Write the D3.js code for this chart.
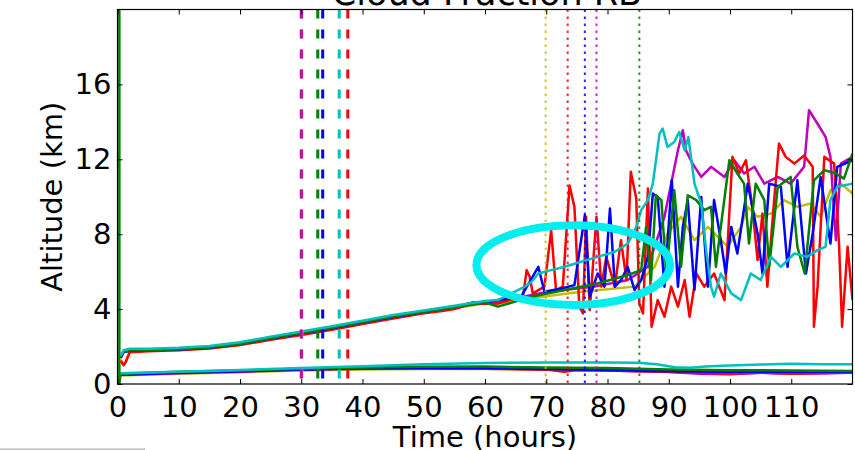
<!DOCTYPE html>
<html lang="en">
<head>
<meta charset="UTF-8">
<title>Cloud Fraction RB</title>
<script src="https://d3js.org/d3.v7.min.js"></script>
<style>
  body { margin: 0; background: #fff; }
  svg { display: block; font-family: "DejaVu Sans", sans-serif; }
  .tick text { font-size: 29px; fill: #000; }
</style>
</head>
<body>
<svg width="855" height="450"></svg>
<script>
// ---- data: [time (hours), altitude (km)] ----
const xTicks = [0, 10, 20, 30, 40, 50, 60, 70, 80, 90, 100, 110];
const yTicks = [0, 4, 8, 12, 16];

const yellowTop = [[0.5,1.3],[1.0,1.05],[1.4,1.2],[2,1.72],[5,1.78],[10,1.82],[15,1.92],[20,2.1],[25,2.4],[30,2.68],[35,2.96],[40,3.26],[45,3.56],[50,3.82],[55,4.06],[60,4.3],
  [62.1,4.3],[68,4.6],[75.7,4.93],[84.4,5.2],[87.7,6.26],[89.8,8.04],[92.0,8.93],[94.2,7.68],[96.4,8.39],[99.6,7.33],[101.8,8.39],[102.9,9.46],[104.5,8.93],[106.7,9.1],[108.8,9.82],[111.0,9.46],[113.2,9.64],[114.8,8.93],[116.4,10.35],[118.1,10.7],[120,10.17]];
const magentaTop = [[0.5,1.4],[1.0,1.7],[2,1.8],[5,1.8],[10,1.85],[15,1.95],[20,2.15],[25,2.45],[30,2.72],[35,3.0],[40,3.3],[45,3.6],[50,3.85],[55,4.1],[60,4.35],
  [62.1,4.39],[70.3,4.93],[77.9,5.2],[83.3,5.55],[86.6,6.26],[89.3,8.93],[91.5,12.48],[92.3,13.55],[92.8,12.48],[93.9,11.77],[95.3,11.06],[96.9,11.6],[99.1,11.06],[100.7,11.95],[102.3,11.24],[104.0,11.6],[105.6,10.7],[107.8,11.06],[109.9,10.7],[112.1,11.6],[112.9,14.62],[114.3,13.9],[115.6,13.2],[116.4,12.13],[117.3,7.68],[118.1,11.77],[120,12.13]];
const redTop = [[0.5,1.25],[1.0,1.0],[1.3,1.15],[2,1.7],[5,1.75],[10,1.8],[15,1.9],[20,2.08],[25,2.36],[30,2.62],[35,2.9],[40,3.2],[45,3.5],[50,3.78],[53,3.9],[55,4.0],[58,4.3],[60,4.28],
  [62.1,4.3],[64.9,4.57],[66.2,4.66],[66.8,6.08],[67.3,5.73],[67.8,4.84],[69.7,5.2],[70.8,8.2],[71.6,5.0],[72.7,5.2],[73.8,10.6],[74.6,9.46],[75.4,4.13],[76.0,3.77],[76.5,8.93],[77.1,3.95],[78.2,8.93],[79.0,5.2],[79.8,6.79],[81.2,5.2],[82.2,7.68],[83.1,5.55],[83.8,11.33],[84.7,9.9],[85.2,4.3],[85.8,3.77],[86.6,10.44],[87.2,3.06],[88.2,4.48],[89.3,3.59],[90.4,5.2],[91.5,4.13],[92.6,5.55],[93.4,3.59],[94.5,5.9],[95.8,5.2],[97.4,5.9],[99.1,4.48],[100.4,12.13],[101.5,11.24],[102.6,11.95],[103.7,9.28],[104.5,6.62],[105.3,9.1],[106.1,5.2],[107.2,9.8],[108.0,12.84],[109.1,12.13],[110.5,11.77],[112.1,12.2],[113.5,11.6],[113.7,3.06],[114.3,5.2],[115.4,12.13],[117.0,11.77],[117.8,7.5],[118.3,3.06],[119.2,7.33],[120,4.48]];
const blueTop = [[0.5,1.4],[1.0,1.7],[2,1.78],[5,1.8],[10,1.84],[15,1.94],[20,2.13],[25,2.43],[30,2.7],[35,2.98],[40,3.28],[45,3.58],[50,3.84],[55,4.1],[58,4.35],[60,4.34],
  [62.1,4.48],[65.9,4.66],[68.7,6.26],[69.7,4.93],[72.5,5.1],[74.6,5.28],[76.3,9.02],[77.1,4.66],[78.4,5.9],[79.5,5.2],[80.4,9.37],[81.2,5.2],[82.2,5.55],[83.3,6.26],[84.4,5.02],[85.5,5.55],[86.6,6.79],[87.4,10.17],[88.2,9.99],[89.3,5.2],[90.5,10.88],[91.5,5.2],[92.3,8.39],[93.1,9.82],[94.2,5.02],[95.3,9.99],[96.4,5.2],[97.4,9.82],[98.5,7.68],[99.3,5.9],[100.2,8.39],[101.2,6.97],[102.9,10.7],[104.5,8.04],[105.3,5.9],[106.4,10.7],[108.3,10.53],[109.4,6.26],[111.0,10.88],[112.4,5.9],[113.5,8.04],[114.8,11.06],[116.4,7.5],[117.5,11.6],[120,11.95]];
const greenTop = [[0.4,1.45],[1.0,1.72],[2,1.8],[5,1.8],[10,1.85],[15,1.95],[20,2.14],[25,2.44],[30,2.72],[35,3.0],[40,3.3],[45,3.6],[50,3.85],[55,4.1],[60,4.35],
  [62.1,4.13],[67.6,4.66],[73.0,5.02],[78.4,5.37],[83.3,5.82],[85.5,6.08],[86.3,8.39],[87.1,5.55],[87.9,10.08],[88.8,9.82],[89.6,5.9],[90.9,10.35],[92.0,6.26],[93.1,10.08],[94.5,9.82],[95.8,9.28],[96.9,9.46],[97.7,6.26],[98.5,8.39],[99.9,11.95],[101.2,11.24],[102.3,10.7],[103.1,7.5],[104.2,10.7],[105.6,9.82],[106.4,6.26],[107.8,10.53],[109.9,11.06],[111.0,7.33],[112.2,5.9],[113.7,10.88],[115.4,11.42],[117.3,11.24],[118.6,10.97],[120,12.3]];
const cyanTop = [[0.5,1.5],[1.0,1.8],[2,1.88],[5,1.88],[10,1.93],[15,2.03],[20,2.23],[25,2.53],[30,2.8],[35,3.08],[40,3.38],[45,3.68],[50,3.93],[55,4.18],[60,4.43],
  [62.1,4.48],[66.5,5.2],[67.6,5.46],[68.7,5.9],[70.8,6.08],[73.0,6.26],[75.7,6.53],[78.4,6.79],[81.2,7.06],[83.3,7.5],[84.7,8.39],[85.5,9.28],[86.6,9.82],[87.4,10.7],[88.5,13.37],[89.0,13.64],[89.8,12.66],[90.9,12.93],[91.7,13.46],[92.6,12.48],[93.2,13.19],[94.2,10.7],[95.3,9.64],[96.1,7.15],[96.9,5.2],[97.4,4.66],[98.5,5.9],[100.2,4.84],[101.8,4.48],[103.4,5.9],[105.0,5.55],[106.7,6.79],[108.3,6.26],[110.5,6.97],[112.6,6.79],[114.3,7.15],[115.6,7.33],[116.4,9.82],[117.5,10.53],[120,10.7]];

const yellowLow = [[0.5,0.45],[10,0.55],[20,0.63],[30,0.72],[40,0.78],[50,0.8],[60,0.8],[70,0.76],[80,0.72],[90,0.66],[100,0.64],[110,0.63],[120,0.62]];
const magentaLow = [[0.5,0.5],[10,0.58],[20,0.66],[30,0.76],[40,0.82],[50,0.84],[60,0.83],[70,0.78],[80,0.72],[90,0.64],[95,0.55],[100,0.52],[105,0.6],[110,0.55],[120,0.6]];
const redLow = [[0.5,0.52],[10,0.6],[20,0.68],[30,0.78],[40,0.84],[50,0.84],[60,0.82],[70,0.78],[73,0.66],[75,0.75],[80,0.72],[90,0.65],[95,0.6],[100,0.55],[105,0.6],[110,0.55],[115,0.58],[120,0.62]];
const blueLow = [[0.5,0.5],[10,0.6],[20,0.68],[30,0.78],[40,0.84],[50,0.86],[60,0.85],[70,0.8],[80,0.75],[90,0.68],[100,0.65],[110,0.66],[120,0.65]];
const greenLow = [[0.3,20.5],[0.3,0],[0.5,0.55],[5,0.6],[10,0.65],[20,0.72],[30,0.82],[40,0.88],[50,0.92],[60,0.93],[70,0.88],[80,0.85],[85,0.82],[90,0.78],[100,0.74],[110,0.72],[120,0.7]];
const cyanLow = [[0.5,0.58],[10,0.66],[20,0.75],[30,0.85],[40,0.95],[50,1.05],[60,1.12],[70,1.15],[80,1.15],[85,1.14],[88,1.05],[91,0.9],[93.6,0.87],[96,0.94],[98.8,0.97],[105,1.04],[110,1.08],[115,1.06],[120,1.05]];

// vertical markers
const dashedTimes = [30.1, 30.0, 32.7, 33.5, 36.2, 37.6];
const dashedColors = ["#bfbf00", "#bf00bf", "#008000", "#0000ff", "#00bfbf", "#ff0000"];
const dottedTimes = [69.9, 73.5, 76.3, 78.2, 85.2];
const dottedColors = ["#bfbf00", "#ff0000", "#0000ff", "#bf00bf", "#008000"];

// highlighted region: centre time, centre altitude, half-width (h), half-height (km)
const ellipseCentre = [74.4, 6.35];
const ellipseRadii = [15.8, 2.13];

const series = [
  { color: "#bfbf00", top: yellowTop, low: yellowLow },
  { color: "#bf00bf", top: magentaTop, low: magentaLow },
  { color: "#ff0000", top: redTop, low: redLow },
  { color: "#0000ff", top: blueTop, low: blueLow },
  { color: "#008000", top: greenTop, low: greenLow },
  { color: "#00bfbf", top: cyanTop, low: cyanLow }
];

const svg = d3.select("svg");
const pLeft = 117.5, pRight = 852.5, pTop = 9.5, pBottom = 384;

const x = d3.scaleLinear().domain([0, 120]).range([pLeft, pRight]);
const y = d3.scaleLinear().domain([0, 20]).range([pBottom, pTop]);

svg.append("rect").attr("width", 855).attr("height", 450).attr("fill", "#fff");

svg.append("clipPath").attr("id", "plot")
  .append("rect").attr("x", pLeft).attr("y", pTop)
  .attr("width", pRight - pLeft).attr("height", pBottom - pTop);

const plot = svg.append("g").attr("clip-path", "url(#plot)");

const line = d3.line().x(d => x(d[0])).y(d => y(d[1]));

series.forEach(s => {
  plot.append("path").datum(s.low)
    .attr("d", line).attr("fill", "none")
    .attr("stroke", s.color).attr("stroke-width", 2.5)
    .attr("stroke-linejoin", "round");
});
series.forEach(s => {
  plot.append("path").datum(s.top)
    .attr("d", line).attr("fill", "none")
    .attr("stroke", s.color).attr("stroke-width", 2.5)
    .attr("stroke-linejoin", "round");
});

plot.selectAll("line.dashed")
  .data(dashedTimes)
  .enter().append("line")
  .attr("class", "dashed")
  .attr("x1", d => x(d)).attr("x2", d => x(d))
  .attr("y1", y(20)).attr("y2", y(0))
  .attr("stroke", (d, i) => dashedColors[i])
  .attr("stroke-width", 3)
  .attr("stroke-dasharray", "9,11");

plot.selectAll("line.dotted")
  .data(dottedTimes)
  .enter().append("line")
  .attr("class", "dotted")
  .attr("x1", d => x(d)).attr("x2", d => x(d))
  .attr("y1", y(20)).attr("y2", y(0))
  .attr("stroke", (d, i) => dottedColors[i])
  .attr("stroke-opacity", 0.85)
  .attr("stroke-width", 2)
  .attr("stroke-dasharray", "2.5,4.5");

plot.append("ellipse")
  .attr("cx", x(ellipseCentre[0])).attr("cy", y(ellipseCentre[1]))
  .attr("rx", x(ellipseRadii[0]) - x(0)).attr("ry", y(0) - y(ellipseRadii[1]))
  .attr("fill", "none").attr("stroke", "#00eeee").attr("stroke-width", 8);

// axes (matplotlib classic: inward ticks on all four sides)
const xb = svg.append("g").attr("transform", `translate(0,${pBottom})`)
  .call(d3.axisBottom(x).tickValues(xTicks).tickSizeInner(-5).tickSizeOuter(0).tickPadding(12));
const xt = svg.append("g").attr("transform", `translate(0,${pTop})`)
  .call(d3.axisTop(x).tickValues(xTicks).tickSizeInner(-5).tickSizeOuter(0).tickFormat(""));
const yl = svg.append("g").attr("transform", `translate(${pLeft},0)`)
  .call(d3.axisLeft(y).tickValues(yTicks).tickSizeInner(-5).tickSizeOuter(0).tickPadding(6));
const yr = svg.append("g").attr("transform", `translate(${pRight},0)`)
  .call(d3.axisRight(y).tickValues(yTicks).tickSizeInner(-5).tickSizeOuter(0).tickFormat(""));

[xb, xt, yl, yr].forEach(g => {
  g.select(".domain").remove();
  g.selectAll(".tick line").attr("stroke", "#000");
  g.selectAll(".tick text").attr("font-family", "DejaVu Sans").attr("font-size", 29);
});

svg.append("rect")
  .attr("x", pLeft).attr("y", pTop)
  .attr("width", pRight - pLeft).attr("height", pBottom - pTop)
  .attr("fill", "none").attr("stroke", "#000").attr("stroke-width", 1.2);

// labels
svg.append("text")
  .attr("x", (pLeft + pRight) / 2).attr("y", 447)
  .attr("text-anchor", "middle").attr("font-size", 29)
  .text("Time (hours)");

svg.append("text")
  .attr("transform", `translate(62,${(pTop + pBottom) / 2}) rotate(-90)`)
  .attr("text-anchor", "middle").attr("font-size", 29)
  .text("Altitude (km)");

svg.append("text")
  .attr("x", 487).attr("y", 5)
  .attr("text-anchor", "middle").attr("font-size", 35)
  .text("Cloud Fraction RB");

svg.append("line")
  .attr("x1", 0).attr("x2", 145).attr("y1", 449.3).attr("y2", 449.3)
  .attr("stroke", "#bbb").attr("stroke-width", 1.5);
</script>
</body>
</html>
